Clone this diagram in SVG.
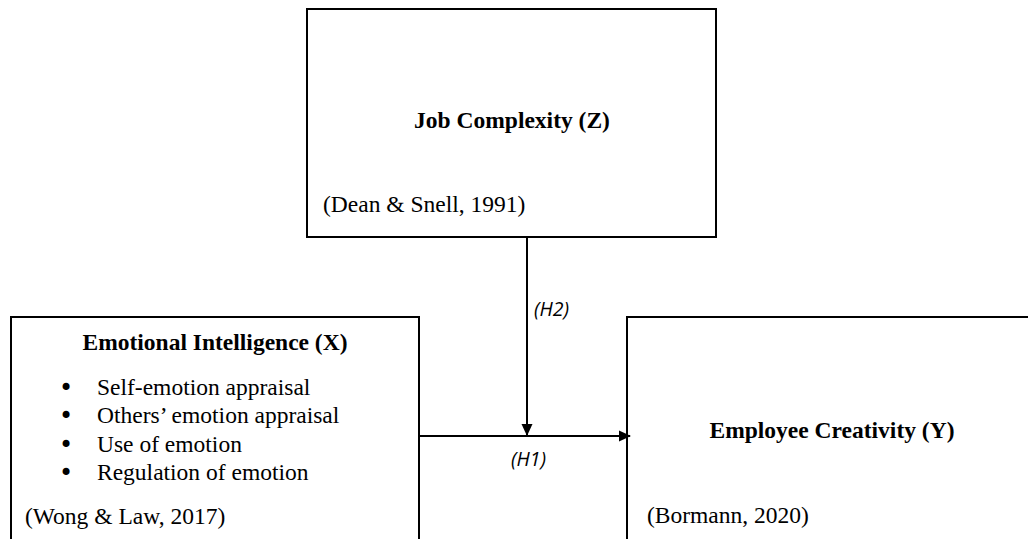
<svg xmlns="http://www.w3.org/2000/svg" width="1028" height="539" viewBox="0 0 1028 539">
<style>
.box{fill:none;stroke:#000;stroke-width:2}
.t{font-family:"Liberation Serif","Times New Roman",serif;font-size:23.5px;fill:#000}
.b{font-weight:bold}
.bu{font-family:"DejaVu Sans",sans-serif;font-size:24px;fill:#000}
.h{font-family:"Open Sans","DejaVu Sans",sans-serif;font-style:italic;font-size:19.5px;fill:#000}
.c{stroke:#000;stroke-width:2;fill:none}
</style>
<defs>
<marker id="arr" viewBox="0 0 12 12" refX="11" refY="6" markerWidth="6" markerHeight="6" orient="auto" markerUnits="strokeWidth">
<path d="M0,0.5 L12,6 L0,11.5 z" fill="#000"/>
</marker>
</defs>
<rect width="1028" height="539" fill="#fff"/>
<g id="node-z">
<rect class="box" x="307" y="9" width="409" height="228"/>
<text class="t b" x="512" y="128" text-anchor="middle">Job Complexity (Z)</text>
<text class="t" x="323" y="212">(Dean &amp; Snell, 1991)</text>
</g>
<g id="node-x">
<path class="box" d="M11,540 V317 H419 V540"/>
<text class="t b" x="215" y="350" text-anchor="middle">Emotional Intelligence (X)</text>
<g class="bu">
<text x="59" y="396">•</text>
<text x="59" y="424">•</text>
<text x="59" y="453">•</text>
<text x="59" y="481">•</text>
</g>
<g class="t">
<text x="97" y="395">Self-emotion appraisal</text>
<text x="97" y="423">Others’ emotion appraisal</text>
<text x="97" y="452">Use of emotion</text>
<text x="97" y="480">Regulation of emotion</text>
</g>
<text class="t" x="25" y="524">(Wong &amp; Law, 2017)</text>
</g>
<g id="node-y">
<path class="box" d="M627,540 V317 H1029"/>
<text class="t b" x="832" y="438" text-anchor="middle">Employee Creativity (Y)</text>
<text class="t" x="647" y="523">(Bormann, 2020)</text>
</g>
<g id="connectors">
<line class="c" x1="527" y1="237" x2="527" y2="435" marker-end="url(#arr)"/>
<line class="c" x1="419" y1="436" x2="630" y2="436" marker-end="url(#arr)"/>
<text class="h" x="534" y="316">(H2)</text>
<text class="h" x="511" y="466">(H1)</text>
</g>
</svg>
